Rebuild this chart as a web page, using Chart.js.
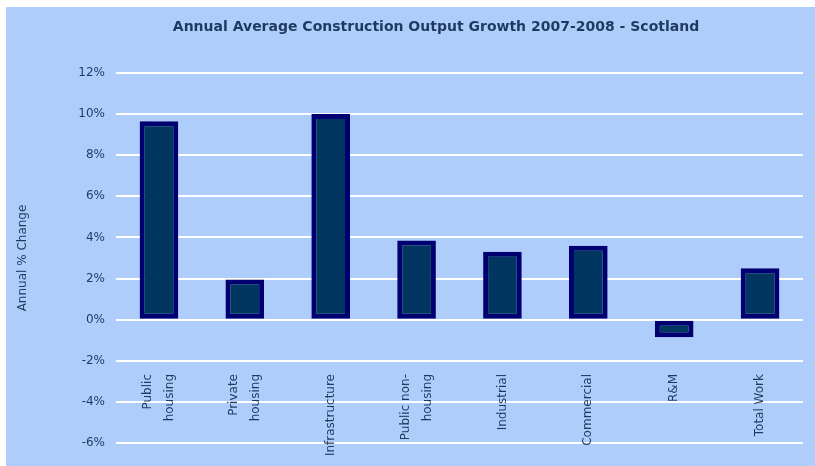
<!DOCTYPE html>
<html>
<head>
<meta charset="utf-8">
<script src="https://cdn.jsdelivr.net/npm/chart.js@4.4.1/dist/chart.umd.min.js"></script>
<style>
  html, body { margin: 0; padding: 0; background: #ffffff; }
  #wrap { position: absolute; left: 6px; top: 7px; width: 809px; height: 459px; background: #afcdfb; }
</style>
</head>
<body>
<div id="wrap"><canvas id="growthChart" width="809" height="459"></canvas></div>
<script>
const categories = [
    ['Public', 'housing'],
    ['Private', 'housing'],
    ['Infrastructure'],
    ['Public non-', 'housing'],
    ['Industrial'],
    ['Commercial'],
    ['R&M'],
    ['Total Work']
];
const growth = [9.65, 1.95, 10.0, 3.85, 3.3, 3.6, -0.85, 2.5];
const yTicks = [-6, -4, -2, 0, 2, 4, 6, 8, 10, 12];

const textColor = '#1f3a5f';
const fontFamily = '"DejaVu Sans", sans-serif';

// title and rotated category labels drawn inside the plot, like the original
const labelPlugin = {
    id: 'labelPlugin',
    afterDraw(chart) {
        const ctx = chart.ctx;
        const x = chart.scales.x;
        ctx.save();
        ctx.fillStyle = textColor;
        ctx.font = 'bold 14px ' + fontFamily;
        ctx.textAlign = 'center';
        ctx.textBaseline = 'middle';
        ctx.fillText('Annual Average Construction Output Growth 2007-2008 - Scotland', 430, 20);

        ctx.font = '12px ' + fontFamily;
        ctx.textAlign = 'right';
        categories.forEach((lines, i) => {
            const cx = x.getPixelForValue(i);
            lines.forEach((line, j) => {
                const lx = cx + (j - (lines.length - 1) / 2) * 22;
                ctx.save();
                ctx.translate(lx, 367);
                ctx.rotate(-Math.PI / 2);
                ctx.fillText(line, 0, 0);
                ctx.restore();
            });
        });
        ctx.restore();
    }
};

new Chart(document.getElementById('growthChart').getContext('2d'), {
    type: 'bar',
    data: {
        labels: categories,
        datasets: [{
            data: growth,
            backgroundColor: '#013660',
            borderColor: '#000070',
            borderWidth: 5,
            borderSkipped: false,
            barPercentage: 0.45,
            categoryPercentage: 1.0
        }]
    },
    options: {
        responsive: false,
        animation: false,
        layout: { padding: { left: 0, top: 66, right: 12, bottom: 23 } },
        plugins: {
            legend: { display: false },
            tooltip: { enabled: false }
        },
        scales: {
            x: {
                display: false
            },
            y: {
                min: -6,
                max: 12,
                afterBuildTicks(scale) {
                    scale.ticks = yTicks.map(v => ({ value: v }));
                },
                afterFit(scale) {
                    scale.width = 110;
                },
                border: { display: false },
                grid: {
                    color: '#ffffff',
                    lineWidth: 2,
                    drawTicks: false
                },
                ticks: {
                    padding: 11,
                    color: textColor,
                    font: { family: fontFamily, size: 12 },
                    callback: v => v + '%'
                },
                title: {
                    display: true,
                    text: 'Annual % Change',
                    color: textColor,
                    font: { family: fontFamily, size: 12 },
                    padding: { top: 10, bottom: 0 }
                }
            }
        }
    },
    plugins: [labelPlugin]
});
</script>
</body>
</html>
